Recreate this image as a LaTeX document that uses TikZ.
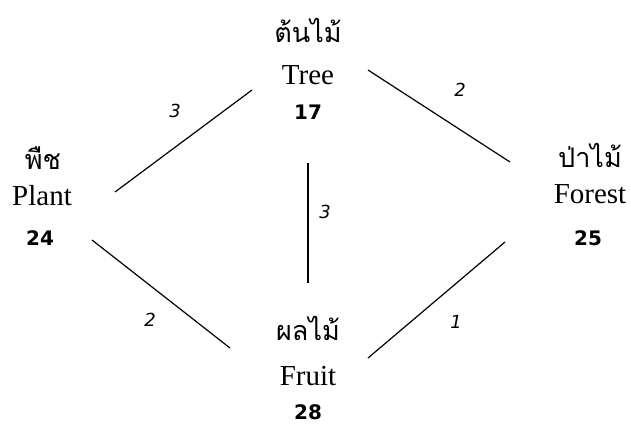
\documentclass[tikz,border=0pt]{standalone}
\usepackage{fontspec}
\setmainfont{Liberation Serif}
\newfontfamily\thaifont[Script=Thai]{Loma}
\newfontfamily\numfont{DejaVu Sans}
\begin{document}
\begin{tikzpicture}[x=1pt,y=-1pt,
  thai/.style={font=\thaifont\fontsize{27}{29}\selectfont, inner sep=0pt},
  eng/.style={font=\fontsize{29}{31}\selectfont, inner sep=0pt},
  num/.style={font=\numfont\bfseries\fontsize{20}{22}\selectfont, inner sep=0pt},
  wt/.style={font=\numfont\itshape\fontsize{18}{20}\selectfont, inner sep=0pt},
  edge/.style={line width=1.2pt, black}]
\useasboundingbox (0,0) rectangle (631,426);
% Tree
\node[thai] (treeth) at (308,30) {ต้นไม้};
\node[eng] (treeen) at (308,75) {Tree};
\node[num] (treenum) at (308,112) {17};
% Plant
\node[thai] (plantth) at (43,158) {พืช};
\node[eng] (planten) at (42,196) {Plant};
\node[num] (plantnum) at (40,238) {24};
% Forest
\node[thai] (forestth) at (590,155) {ป่าไม้};
\node[eng] (foresten) at (590,194) {Forest};
\node[num] (forestnum) at (588,238) {25};
% Fruit
\node[thai] (fruitth) at (308,328) {ผลไม้};
\node[eng] (fruiten) at (308,376) {Fruit};
\node[num] (fruitnum) at (308,412) {28};
% connector endpoints
\coordinate (pt1) at (115,192);
\coordinate (tp1) at (252,90);
\coordinate (tf1) at (368,70);
\coordinate (ft1) at (510,162);
\coordinate (tr2) at (308,163);
\coordinate (fr2) at (308,283);
\coordinate (pf1) at (92,240);
\coordinate (fp1) at (230,348);
\coordinate (rf1) at (368,358);
\coordinate (fo1) at (505,242);
\draw[edge] (pt1) -- (tp1);
\draw[edge] (tf1) -- (ft1);
\draw[edge] (tr2) -- (fr2);
\draw[edge] (pf1) -- (fp1);
\draw[edge] (rf1) -- (fo1);
% weights
\node[wt] (w1) at (175,111) {3};
\node[wt] (w2) at (460,90) {2};
\node[wt] (w3) at (325,212) {3};
\node[wt] (w4) at (150,320) {2};
\node[wt] (w5) at (456,322) {1};
\end{tikzpicture}
\end{document}
